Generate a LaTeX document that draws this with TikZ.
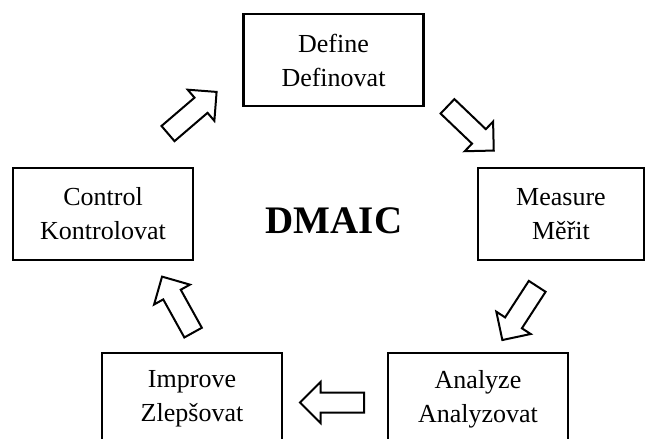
\documentclass[tikz,border=0pt]{standalone}
\usepackage{fontspec}
\setmainfont{Liberation Serif}
\usepackage{tikz}
\usetikzlibrary{shapes,positioning}

\begin{document}
\begin{tikzpicture}[x=1pt,y=-1pt,line width=2pt]
\tikzstyle{block} = [draw, shape=rectangle, line width=2.2pt, minimum height=92pt, minimum width=180pt, align=center, font=\fontsize{26}{34}\selectfont]
\tikzstyle{hollow} = [draw, shape=single arrow, line width=2pt, minimum height=64pt, minimum width=39pt, single arrow head extend=10.5pt, inner sep=9pt]

\useasboundingbox (0,0) rectangle (646,439);

% Phases
\node [block] at (333.5,60) (define) {Define\\Definovat};
\node [block] at (103,214) (control) {Control\\Kontrolovat};
\node [block, minimum width=166pt, right of=control, node distance=458pt] (measure) {Measure\\Měřit};
\node [block] at (192,399) (improve) {Improve\\Zlepšovat};
\node [block, right of=improve, node distance=286pt] (analyze) {Analyze\\Analyzovat};

% Title
\node at (334,221) (dmaic) {\fontsize{39}{39}\selectfont\bfseries DMAIC};

% Cycle arrows
\node [hollow, rotate=40.6] at (188.5,116) (c2d) {};
\node [hollow, rotate=-43.7] at (467,125) (d2m) {};
\node [hollow, rotate=237] at (522.5,309) (m2a) {};
\node [hollow, rotate=180] at (337,402.5) (a2i) {};
\node [hollow, rotate=119] at (180,309) (i2c) {};

\end{tikzpicture}
\end{document}
